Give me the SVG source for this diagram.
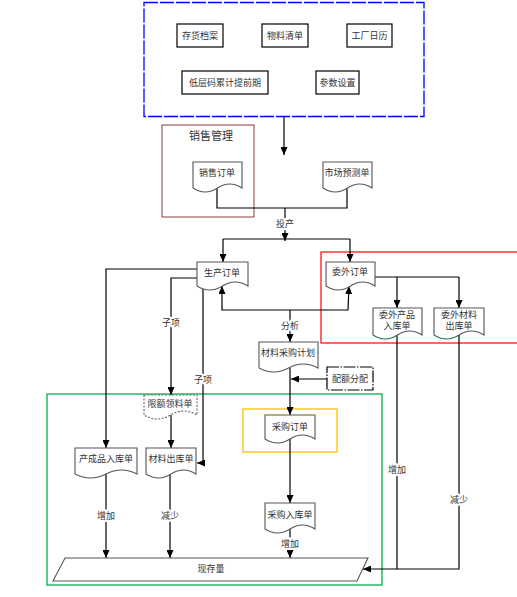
<svg xmlns="http://www.w3.org/2000/svg" width="517" height="597" viewBox="0 0 517 597">
<defs>
<marker id="arr" markerUnits="userSpaceOnUse" markerWidth="8" markerHeight="7" refX="8" refY="3.5" orient="auto">
<path d="M0,0 L8,3.5 L0,7 z" fill="#000"/>
</marker>
<style>
text{font-family:"Liberation Sans","Noto Sans CJK SC",sans-serif;font-size:9px;fill:#333;text-anchor:middle}
.box{fill:#fff;stroke:#000;stroke-width:1.2}
.doc{fill:#fff;stroke:#555;stroke-width:1.1}
.dashdoc{fill:#fff;stroke:#666;stroke-width:1.1;stroke-dasharray:2 1.5}
.ln{fill:none;stroke:#000;stroke-width:1.2}
.ar{fill:none;stroke:#000;stroke-width:1.2;marker-end:url(#arr)}
.lbl{paint-order:stroke;stroke:#fff;stroke-width:4px;stroke-linejoin:round}
</style>
</defs>
<rect width="517" height="597" fill="#fff"/>

<!-- containers -->
<g id="containers">
<rect x="144" y="2.5" width="280" height="114" fill="none" stroke="#0000FF" stroke-width="1.3" stroke-dasharray="14 2"/>
<rect x="162" y="125" width="92" height="92" fill="none" stroke="#8B3A3A" stroke-width="1"/>
<text x="211" y="140" style="font-size:11px">销售管理</text>
<rect x="321" y="252" width="200" height="91" fill="none" stroke="#FF0000" stroke-width="1.2"/>
<rect x="47" y="394" width="335" height="191" fill="none" stroke="#00B050" stroke-width="1.3"/>
<rect x="243" y="409" width="94" height="43" fill="none" stroke="#FFC000" stroke-width="1.3"/>
</g>

<!-- connectors -->
<g id="connectors">
<line class="ar" x1="284" y1="117" x2="284" y2="155"/>
<polyline class="ln" points="217,188 217,208 347,208 347,188"/>
<line class="ar" x1="285" y1="208" x2="285" y2="241"/>
<polyline class="ln" points="223,239 350,239"/>
<line class="ar" x1="223" y1="239" x2="223" y2="262"/>
<line class="ar" x1="350" y1="239" x2="350" y2="262"/>
<polyline class="ar" points="290,310 222,310 222,286"/>
<polyline class="ar" points="290,310 348,310 349,286"/>
<line class="ar" x1="290" y1="310" x2="290" y2="342"/>
<polyline class="ln" points="375,277 459,277"/>
<line class="ar" x1="397" y1="277" x2="397" y2="308"/>
<line class="ar" x1="459" y1="277" x2="459" y2="308"/>
<line class="ar" x1="327" y1="379" x2="291" y2="379"/>
<line class="ar" x1="290" y1="368" x2="290" y2="415"/>
<line class="ar" x1="290" y1="439" x2="290" y2="503"/>
<line class="ar" x1="290" y1="529" x2="290" y2="558"/>
<polyline class="ar" points="197,269 106,269 106,448"/>
<polyline class="ar" points="197,278 171,278 171,395"/>
<polyline class="ar" points="203,286 203,463 197,463"/>
<line class="ar" x1="171" y1="415" x2="171" y2="448"/>
<line class="ar" x1="106" y1="474" x2="106" y2="558"/>
<line class="ar" x1="170" y1="474" x2="170" y2="558"/>
<line class="ln" x1="397" y1="335" x2="397" y2="569"/>
<polyline class="ar" points="459,335 459,569 363,569"/>
<text class="lbl" x="285" y="227">投产</text>
<text class="lbl" x="290" y="329">分析</text>
<text class="lbl" x="171" y="326">子项</text>
<text class="lbl" x="203" y="383">子项</text>
<text class="lbl" x="106" y="519">增加</text>
<text class="lbl" x="170" y="519">减少</text>
<text class="lbl" x="290" y="547">增加</text>
<text class="lbl" x="397" y="473">增加</text>
<text class="lbl" x="459" y="503">减少</text>
</g>

<!-- top nodes -->
<g id="n-chdangan"><rect class="box" x="177" y="24" width="46" height="23"/><text x="200" y="39">存货档案</text></g>
<g id="n-wuliao"><rect class="box" x="262" y="24" width="46" height="23"/><text x="285" y="39">物料清单</text></g>
<g id="n-rili"><rect class="box" x="347" y="24" width="45" height="23"/><text x="369.5" y="39">工厂日历</text></g>
<g id="n-diceng"><rect class="box" x="182" y="71" width="86" height="23"/><text x="225" y="86">低层码累计提前期</text></g>
<g id="n-canshu"><rect class="box" x="316" y="71" width="43" height="23"/><text x="337.5" y="86">参数设置</text></g>

<!-- documents -->
<g id="n-xiaoshou"><path class="doc" d="M193,162 H242 V188 Q229.75,180 217.5,188 T193,188 Z"/><text x="217" y="176">销售订单</text></g>
<g id="n-yuce"><path class="doc" d="M323,162 H372 V188 Q359.75,180 347.5,188 T323,188 Z"/><text x="347" y="176">市场预测单</text></g>
<g id="n-shengchan"><path class="doc" d="M197,262 H248 V286 Q235.25,278 222.5,286 T197,286 Z"/><text x="222" y="276">生产订单</text></g>
<g id="n-weiwai"><path class="doc" d="M326,262 H375 V286 Q362.75,278 350.5,286 T326,286 Z"/><text x="350" y="275">委外订单</text></g>
<g id="n-wwrk"><path class="doc" d="M373,308 H422 V335 Q409.75,327 397.5,335 T373,335 Z"/><text x="397" y="318">委外产品</text><text x="397" y="329">入库单</text></g>
<g id="n-wwck"><path class="doc" d="M434,308 H484 V335 Q471.5,327 459,335 T434,335 Z"/><text x="459" y="318">委外材料</text><text x="459" y="329">出库单</text></g>
<g id="n-caigoujh"><path class="doc" d="M259,342 H318 V368 Q303.25,360 288.5,368 T259,368 Z"/><text x="288" y="356">材料采购计划</text></g>
<g id="n-peie"><rect x="327" y="367" width="46" height="23" fill="#fff" stroke="#000" stroke-width="1.2" stroke-dasharray="12 1.5 1.5 1.5"/><text x="350" y="382">配额分配</text></g>
<g id="n-xiane"><path class="dashdoc" d="M144,395 H197 V415 Q183.75,407 170.5,415 T144,415 Z"/><text x="170" y="407">限额领料单</text></g>
<g id="n-caigoudd"><path class="doc" d="M265,415 H315 V439 Q302.5,431 290,439 T265,439 Z"/><text x="290" y="430">采购订单</text></g>
<g id="n-chanchengpin"><path class="doc" d="M75,448 H137 V474 Q121.5,466 106,474 T75,474 Z"/><text x="106" y="462">产成品入库单</text></g>
<g id="n-cailiaock"><path class="doc" d="M146,448 H196 V474 Q183.5,466 171,474 T146,474 Z"/><text x="171" y="462">材料出库单</text></g>
<g id="n-caigourk"><path class="doc" d="M265,503 H315 V529 Q302.5,521 290,529 T265,529 Z"/><text x="290" y="518">采购入库单</text></g>
<g id="n-xiancun"><polygon points="65,558 368,558 357,581 53,581" fill="#fff" stroke="#555" stroke-width="1.1"/><text x="211" y="572">现存量</text></g>
</svg>
